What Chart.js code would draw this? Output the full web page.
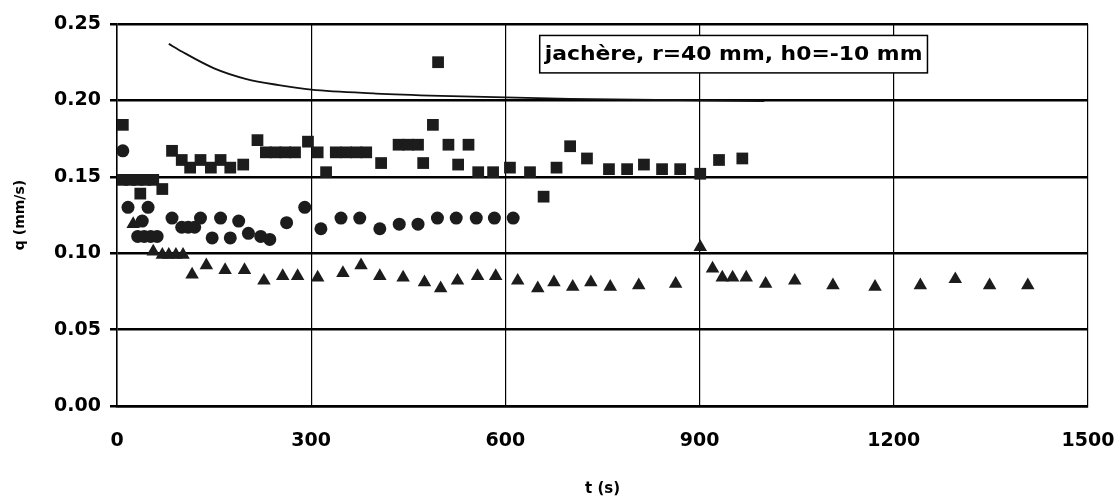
<!DOCTYPE html>
<html>
<head>
<meta charset="utf-8">
<script src="https://cdn.jsdelivr.net/npm/chart.js@4/dist/chart.umd.min.js"></script>
<style>
  html, body { margin: 0; padding: 0; background: #fff; }
  #wrap { width: 1119px; height: 500px; }
</style>
</head>
<body>
<div id="wrap"><canvas id="c"></canvas></div>
<script>
// Données (t en s, q en mm/s)
const tCarres = [9, 8, 20, 32, 44, 56, 36, 70, 85, 100, 113, 129, 145, 160, 175, 195, 217,
  230, 245, 260, 275, 295, 310, 323, 338, 354, 370, 385, 408, 435, 450, 465, 473, 488, 496,
  512, 527, 543, 558, 581, 607, 638, 659, 679, 700, 726, 760, 788, 814, 842, 870, 901, 930, 966];
const qCarres = [0.184, 0.148, 0.148, 0.148, 0.148, 0.148, 0.139, 0.142, 0.167, 0.161, 0.156, 0.161, 0.156, 0.161, 0.156, 0.158, 0.174,
  0.166, 0.166, 0.166, 0.166, 0.173, 0.166, 0.153, 0.166, 0.166, 0.166, 0.166, 0.159, 0.171, 0.171, 0.171, 0.159, 0.184, 0.225,
  0.171, 0.158, 0.171, 0.153, 0.153, 0.156, 0.153, 0.137, 0.156, 0.170, 0.162, 0.155, 0.155, 0.158, 0.155, 0.155, 0.152, 0.161, 0.162];

const tRonds = [9, 17, 39, 48, 32, 42, 52, 62, 85, 100, 110, 120, 129, 147, 160, 175, 188, 203, 222, 236,
  262, 290, 315, 346, 375, 406, 436, 465, 495, 524, 555, 583, 612];
const qRonds = [0.167, 0.130, 0.121, 0.130, 0.111, 0.111, 0.111, 0.111, 0.123, 0.117, 0.117, 0.117, 0.123, 0.110, 0.123, 0.110, 0.121, 0.113, 0.111, 0.109,
  0.120, 0.130, 0.116, 0.123, 0.123, 0.116, 0.119, 0.119, 0.123, 0.123, 0.123, 0.123, 0.123];

const tTriangles = [25, 56, 70, 80, 91, 102, 116, 138, 167, 197, 227, 256, 279, 310, 349, 377, 406, 442, 475, 500,
  526, 557, 585, 619, 650, 675, 704, 732, 762, 806, 863, 901, 920, 935, 951, 972, 1002, 1047, 1106, 1171,
  1241, 1295, 1348, 1407];
const qTriangles = [0.119, 0.101, 0.099, 0.099, 0.099, 0.099, 0.086, 0.092, 0.089, 0.089, 0.082, 0.085, 0.085, 0.084, 0.087, 0.092, 0.085, 0.084, 0.081, 0.077,
  0.082, 0.085, 0.085, 0.082, 0.077, 0.081, 0.078, 0.081, 0.078, 0.079, 0.080, 0.104, 0.090, 0.084, 0.084, 0.084, 0.080, 0.082, 0.079, 0.078,
  0.079, 0.083, 0.079, 0.079];

// Courbe (modèle)
const tCourbe = [80, 100, 150, 200, 250, 300, 400, 500, 600, 700, 800, 900, 1000];
const qCourbe = [0.237, 0.232, 0.221, 0.214, 0.210, 0.207, 0.2045, 0.203, 0.202, 0.201, 0.2005, 0.200, 0.1995];

const xTicks = [0, 300, 600, 900, 1200, 1500];
const legende = 'jachère, r=40 mm, h0=-10 mm';

const POLICE = '"DejaVu Sans", Verdana, sans-serif';
const ENCRE = '#1c1c1c';

function points(ts, qs) {
  return ts.map((t, i) => ({ x: t, y: qs[i] }));
}

// Cadre avec le texte de légende
const cadreLegende = {
  id: 'cadreLegende',
  afterDatasetsDraw(chart) {
    const ctx = chart.ctx;
    const x = chart.scales.x, y = chart.scales.y;
    const x0 = x.getPixelForValue(653), x1 = x.getPixelForValue(1252);
    const y0 = y.getPixelForValue(0.2425), y1 = y.getPixelForValue(0.218);
    ctx.save();
    ctx.fillStyle = '#fff';
    ctx.fillRect(x0, y0, x1 - x0, y1 - y0);
    ctx.strokeStyle = '#000';
    ctx.lineWidth = 1.5;
    ctx.strokeRect(x0, y0, x1 - x0, y1 - y0);
    ctx.fillStyle = '#000';
    ctx.font = 'bold 20px ' + POLICE;
    const w = ctx.measureText(legende).width;
    const cible = x1 - x0 - 10;
    ctx.textBaseline = 'middle';
    ctx.translate(x0 + 5, (y0 + y1) / 2 + 1);
    ctx.scale(cible / w, 1);
    ctx.fillText(legende, 0, 0);
    ctx.restore();
  }
};

new Chart(document.getElementById('c'), {
  type: 'scatter',
  data: {
    datasets: [
      {
        label: 'modèle',
        type: 'line',
        data: points(tCourbe, qCourbe),
        borderColor: '#111',
        borderWidth: 1.8,
        pointRadius: 0,
        cubicInterpolationMode: 'monotone',
        fill: false,
      },
      {
        label: 'carrés',
        data: points(tCarres, qCarres),
        pointStyle: 'rect',
        pointRadius: 8.3,
        backgroundColor: ENCRE,
        borderColor: ENCRE,
        borderWidth: 0,
      },
      {
        label: 'ronds',
        data: points(tRonds, qRonds),
        pointStyle: 'circle',
        pointRadius: 6.5,
        backgroundColor: ENCRE,
        borderColor: ENCRE,
        borderWidth: 0,
      },
      {
        label: 'triangles',
        data: points(tTriangles, qTriangles),
        pointStyle: 'triangle',
        pointRadius: 7.8,
        backgroundColor: ENCRE,
        borderColor: ENCRE,
        borderWidth: 0,
      },
    ],
  },
  options: {
    responsive: true,
    maintainAspectRatio: false,
    animation: false,
    layout: { padding: { left: 0, right: 31, top: 24, bottom: 0 } },
    plugins: { legend: { display: false }, tooltip: { enabled: false } },
    scales: {
      x: {
        type: 'linear',
        min: 0,
        max: 1500,
        afterBuildTicks: s => { s.ticks = xTicks.map(v => ({ value: v })); },
        afterFit: s => { s.height = 94; s.paddingLeft = 0; s.paddingRight = 0; },
        grid: { color: '#000', lineWidth: 1.2, drawTicks: false },
        border: { color: '#000', width: 2.5 },
        ticks: {
          color: '#000',
          font: { family: POLICE, size: 19, weight: 'bold' },
          padding: 24,
          maxRotation: 0,
          callback: v => String(v),
        },
        title: {
          display: true,
          text: 't (s)',
          color: '#000',
          font: { family: POLICE, size: 15, weight: 'bold' },
          padding: { top: 0, bottom: 2 },
        },
      },
      y: {
        min: 0,
        max: 0.25,
        afterFit: s => { s.width = 117; },
        grid: { color: '#000', lineWidth: 2.5, tickLength: 7 },
        border: { color: '#000', width: 1.5 },
        ticks: {
          stepSize: 0.05,
          color: '#000',
          font: { family: POLICE, size: 19, weight: 'bold' },
          padding: 9,
          callback: v => v.toFixed(2),
        },
        title: {
          display: true,
          text: 'q (mm/s)',
          color: '#000',
          font: { family: POLICE, size: 14, weight: 'bold' },
          padding: { top: 12, bottom: 0 },
        },
      },
    },
  },
  plugins: [cadreLegende],
});
</script>
</body>
</html>
